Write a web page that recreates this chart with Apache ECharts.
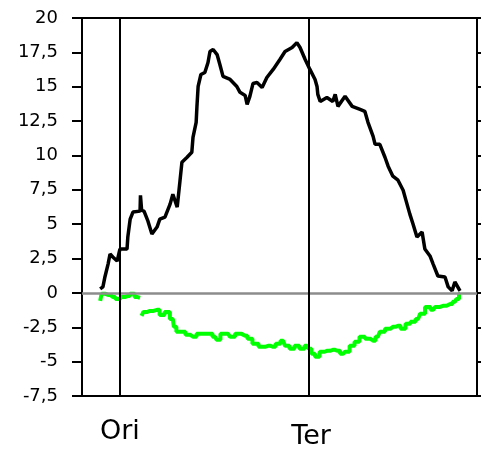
<!DOCTYPE html>
<html>
<head>
<meta charset="utf-8">
<script src="https://cdn.jsdelivr.net/npm/echarts@6/dist/echarts.min.js"></script>
<style>
  html, body { margin: 0; padding: 0; background: #fff; }
  #chart { width: 482px; height: 450px; }
</style>
</head>
<body>
<div id="chart"></div>
<script>
// y axis range and step
const yMin = -7.5;
const yMax = 20;
const yStep = 2.5;

// genome position markers (x axis, 0..100)
const markerNames = ['Ori', 'Ter'];
const markerPos = [9.6, 57.5];

// black curve
const blackX = [4.6, 5.3, 5.8, 6.6, 7.1, 7.8, 8.9, 9.6, 11.4, 11.6, 12.2, 12.9, 14.7, 14.8, 15.1, 15.7, 16.7, 17.7, 19.0, 19.7,
  21.0, 22.3, 23.0, 24.1, 24.8, 25.3, 26.6, 27.8, 28.1, 28.9, 29.1, 29.4, 30.1, 31.1, 31.9, 32.4, 33.2, 34.2,
  34.9, 35.7, 37.5, 39.2, 40.0, 41.3, 41.8, 42.5, 43.3, 44.3, 45.6, 46.8, 48.4, 50.1, 51.4, 53.2, 54.4, 55.2, 56.5, 57.7,
  59.0, 59.5, 59.7, 60.3, 62.0, 63.5, 64.1, 64.8, 66.6, 68.4, 70.4, 71.6, 72.4, 73.7, 74.2, 75.4, 76.7, 77.5,
  78.7, 80.0, 81.3, 82.0, 83.0, 83.8, 84.8, 86.1, 86.8, 88.1, 88.9, 90.1, 91.9, 92.7, 93.7, 94.4, 95.7];
const blackY = [0.29, 0.44, 1.16, 2.10, 2.83, 2.61, 2.32, 3.19, 3.19, 4.06, 5.37, 5.88, 5.95, 7.10, 6.0, 5.95, 5.22, 4.28, 4.79, 5.37,
  5.52, 6.46, 7.18, 6.24, 8.13, 9.51, 9.87, 10.23, 11.32, 12.41, 13.57, 15.02, 15.89, 16.04, 16.76, 17.56, 17.71, 17.34,
  16.62, 15.75, 15.53, 15.02, 14.59, 14.37, 13.72, 14.30, 15.24, 15.31, 14.95, 15.67, 16.26, 16.98, 17.56, 17.85, 18.21, 17.85, 16.98, 16.26,
  15.53, 15.02, 14.44, 13.93, 14.22, 13.93, 14.44, 13.57, 14.30, 13.57, 13.35, 13.21, 12.41, 11.39, 10.81, 10.81, 9.87, 9.22,
  8.49, 8.20, 7.47, 6.75, 5.73, 5.01, 4.06, 4.43, 3.19, 2.69, 2.10, 1.23, 1.16, 0.44, 0.15, 0.80, 0.15];

// green curve (null = gap)
const greenX = [4.6, 5.3, 6.6, 7.8, 9.1, 10.4, 11.6, 12.7, 13.9, 14.7, 14.95, 15.2, 15.9, 17.2, 19.0, 20.3, 21.5, 23.0, 23.5, 24.3,
  25.6, 26.8, 28.1, 29.9, 32.4, 33.7, 34.4, 35.7, 37.0, 38.0, 39.5, 41.3, 42.5, 43.8, 45.6, 47.1, 48.4, 49.6, 50.9, 51.9,
  53.2, 54.4, 55.7, 57.0, 57.7, 58.5, 59.5, 60.8, 62.0, 63.5, 64.6, 66.1, 67.1, 68.4, 69.6, 70.9, 72.4, 73.7, 74.9, 75.9,
  77.5, 78.7, 80.0, 81.3, 82.5, 83.8, 85.1, 86.1, 87.6, 88.9, 89.9, 91.4, 93.2, 94.4, 95.2, 95.7];
const greenY = [-0.58, -0.07, -0.15, -0.29, -0.44, -0.29, -0.22, -0.07, -0.29, -0.36, null, -1.67, -1.38, -1.31, -1.23, -1.60, -1.38, -1.89, -2.47, -2.83,
  -2.83, -3.05, -3.19, -2.98, -2.98, -3.19, -3.41, -2.98, -2.98, -3.19, -2.98, -3.12, -3.34, -3.70, -3.92, -3.85, -3.92, -3.70, -3.48, -3.85,
  -4.06, -3.85, -4.06, -3.85, -4.06, -4.43, -4.64, -4.28, -4.21, -4.14, -4.21, -4.43, -4.28, -3.85, -3.56, -3.19, -3.34, -3.48, -3.19, -2.83,
  -2.61, -2.47, -2.39, -2.61, -2.25, -2.10, -1.89, -1.52, -1.02, -1.23, -1.02, -0.94, -0.80, -0.65, -0.44, -0.07];

const toPairs = (xs, ys) => xs.map((x, i) => [x, ys[i] === null ? '-' : ys[i]]);

const chart = echarts.init(document.getElementById('chart'));

const font = 'DejaVu Sans';

chart.setOption({
  animation: false,
  backgroundColor: '#ffffff',
  grid: {
    left: 82, right: 5, top: 18, bottom: 53,
    show: true,
    borderColor: '#000',
    borderWidth: 2,
    containLabel: false
  },
  xAxis: {
    type: 'value',
    min: 0,
    max: 100,
    axisLine: { show: false },
    axisTick: { show: false },
    splitLine: { show: false },
    axisLabel: {
      customValues: markerPos,
      formatter: v => (v === markerPos[1] ? '{low|' : '{std|') + markerNames[markerPos.indexOf(v)] + '}',
      color: '#000',
      fontFamily: font,
      fontSize: 27,
      margin: 22,
      rich: {
        std: { fontFamily: font, fontSize: 27, color: '#000' },
        low: { fontFamily: font, fontSize: 27, color: '#000', padding: [5, 0, 0, 4] }
      }
    }
  },
  yAxis: [{
    type: 'value',
    min: yMin,
    max: yMax,
    interval: yStep,
    axisLine: { show: true, lineStyle: { color: '#000', width: 2 } },
    axisTick: { show: true, length: 10, lineStyle: { color: '#000', width: 2 } },
    splitLine: { show: false },
    axisLabel: {
      formatter: v => String(v).replace('.', ','),
      color: '#000',
      fontFamily: font,
      fontSize: 18,
      margin: 24
    }
  }, {
    type: 'value',
    position: 'right',
    min: yMin,
    max: yMax,
    interval: yStep,
    axisLine: { show: true, lineStyle: { color: '#000', width: 2 } },
    axisTick: { show: true, length: 4, lineStyle: { color: '#000', width: 2 } },
    splitLine: { show: false },
    axisLabel: { show: false }
  }],
  series: [{
    // zero reference line
    type: 'line',
    data: [],
    z: 1,
    silent: true,
    markLine: {
      symbol: 'none',
      silent: true,
      label: { show: false },
      lineStyle: { color: '#8c8c8c', width: 2.5, type: 'solid' },
      data: [{ yAxis: 0 }]
    }
  }, {
    name: 'green',
    type: 'line',
    data: toPairs(greenX, greenY),
    showSymbol: false,
    step: 'middle',
    z: 2,
    lineStyle: { color: '#00ff00', width: 4 }
  }, {
    name: 'black',
    type: 'line',
    data: toPairs(blackX, blackY),
    showSymbol: false,
    z: 3,
    lineStyle: { color: '#000', width: 3.5 }
  }, {
    // Ori / Ter vertical lines
    type: 'line',
    data: [],
    z: 4,
    silent: true,
    markLine: {
      symbol: 'none',
      silent: true,
      label: { show: false },
      lineStyle: { color: '#000', width: 2, type: 'solid' },
      data: markerPos.map(p => ({ xAxis: p }))
    }
  }]
});
</script>
</body>
</html>
